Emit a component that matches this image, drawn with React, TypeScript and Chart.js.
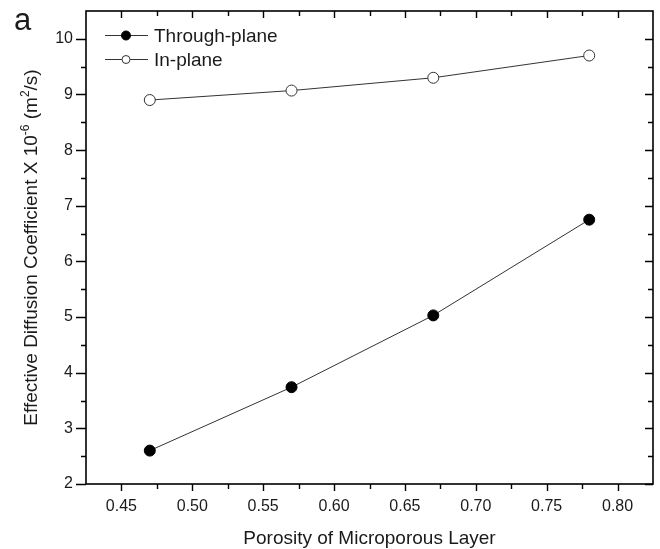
import React, { useEffect, useRef } from 'react';
import { Chart, registerables } from 'chart.js';

Chart.register(...registerables);

const FONT = '"Liberation Sans", Arial, Helvetica, sans-serif';

const porosity = [0.47, 0.57, 0.67, 0.78];
const throughPlane = [2.6, 3.74, 5.03, 6.75];
const inPlane = [8.9, 9.07, 9.3, 9.7];

const xTicks = [0.45, 0.5, 0.55, 0.6, 0.65, 0.7, 0.75, 0.8];
const xMinorTicks = [0.475, 0.525, 0.575, 0.625, 0.675, 0.725, 0.775];
const yTicks = [2, 3, 4, 5, 6, 7, 8, 9, 10];
const yMinorTicks = [2.5, 3.5, 4.5, 5.5, 6.5, 7.5, 8.5, 9.5];

const seriesNames = ['Through-plane', 'In-plane'];
const xTitle = 'Porosity of Microporous Layer';
const panelLabel = 'a';

const framePlugin = {
  id: 'frameTicks',
  afterDraw(chart: any) {
    const { ctx, chartArea: a, scales } = chart;
    const xs = scales.x;
    const ys = scales.y;
    ctx.save();
    ctx.strokeStyle = '#000';
    ctx.lineWidth = 1.6;
    ctx.strokeRect(a.left, a.top, a.right - a.left, a.bottom - a.top);
    ctx.lineWidth = 1.4;
    ctx.beginPath();
    const tickX = (v: number, len: number) => {
      const px = Math.round(xs.getPixelForValue(v)) + 0.5;
      ctx.moveTo(px, a.bottom);
      ctx.lineTo(px, a.bottom + len);
      ctx.moveTo(px, a.top);
      ctx.lineTo(px, a.top + len);
    };
    const tickY = (v: number, len: number, lenR: number) => {
      const py = Math.round(ys.getPixelForValue(v)) + 0.5;
      ctx.moveTo(a.left - len, py);
      ctx.lineTo(a.left, py);
      ctx.moveTo(a.right, py);
      ctx.lineTo(a.right - lenR, py);
    };
    xTicks.forEach((v) => tickX(v, 7));
    xMinorTicks.forEach((v) => tickX(v, 5));
    yTicks.forEach((v) => tickY(v, 10, 8));
    yMinorTicks.forEach((v) => tickY(v, 5, 5));
    ctx.stroke();
    ctx.restore();
  },
};

const textPlugin = {
  id: 'extraText',
  afterDraw(chart: any) {
    const { ctx, chartArea: a } = chart;
    ctx.save();
    ctx.fillStyle = '#1a1a1a';

    // panel label
    ctx.font = `31px ${FONT}`;
    ctx.textBaseline = 'alphabetic';
    ctx.textAlign = 'left';
    ctx.fillText(panelLabel, 14, 30);

    // y title with superscripts
    const segs: [string, boolean][] = [
      ['Effective Diffusion Coefficient X 10', false],
      ['-6', true],
      [' (m', false],
      ['2', true],
      ['/s)', false],
    ];
    const big = `19px ${FONT}`;
    const small = `12px ${FONT}`;
    let total = 0;
    segs.forEach(([t, sup]) => {
      ctx.font = sup ? small : big;
      total += ctx.measureText(t).width;
    });
    ctx.translate(37, (a.top + a.bottom) / 2);
    ctx.rotate(-Math.PI / 2);
    let x = -total / 2;
    segs.forEach(([t, sup]) => {
      ctx.font = sup ? small : big;
      ctx.fillText(t, x, sup ? -8 : 0);
      x += ctx.measureText(t).width;
    });
    ctx.restore();

    // legend
    ctx.save();
    const rows = [35, 59];
    chart.data.datasets.forEach((ds: any, i: number) => {
      const y = rows[i];
      ctx.strokeStyle = ds.borderColor;
      ctx.lineWidth = 1;
      ctx.beginPath();
      ctx.moveTo(105, y + 0.5);
      ctx.lineTo(148, y + 0.5);
      ctx.stroke();
      ctx.beginPath();
      ctx.arc(126, y + 0.5, i === 0 ? 4.5 : 4, 0, Math.PI * 2);
      ctx.fillStyle = ds.pointBackgroundColor;
      ctx.fill();
      ctx.strokeStyle = ds.pointBorderColor;
      ctx.stroke();
      ctx.fillStyle = '#1a1a1a';
      ctx.font = `19px ${FONT}`;
      ctx.textBaseline = 'alphabetic';
      ctx.fillText(ds.label, 154, y + 6.5);
    });
    ctx.restore();
  },
};

export default function App() {
  const ref = useRef<HTMLCanvasElement>(null);
  useEffect(() => {
    if (!ref.current) return;
    const chart = new Chart(ref.current, {
      type: 'line',
      data: {
        datasets: [
          {
            label: seriesNames[0],
            data: porosity.map((x, i) => ({ x, y: throughPlane[i] })),
            borderColor: '#333',
            borderWidth: 1,
            pointRadius: 5.5,
            pointBackgroundColor: '#000',
            pointBorderColor: '#000',
            pointBorderWidth: 1,
            tension: 0,
          },
          {
            label: seriesNames[1],
            data: porosity.map((x, i) => ({ x, y: inPlane[i] })),
            borderColor: '#333',
            borderWidth: 1,
            pointRadius: 5.5,
            pointBackgroundColor: '#fff',
            pointBorderColor: '#333',
            pointBorderWidth: 1,
            tension: 0,
          },
        ],
      },
      options: {
        animation: false,
        responsive: false,
        layout: { padding: { top: 11, right: 7, left: 0, bottom: 0 } },
        plugins: { legend: { display: false }, tooltip: { enabled: false } },
        scales: {
          x: {
            type: 'linear',
            min: 0.425,
            max: 0.825,
            afterBuildTicks: (s: any) => {
              s.ticks = xTicks.map((v) => ({ value: v }));
            },
            afterFit: (s: any) => {
              s.height = 65;
              s.paddingLeft = 0;
              s.paddingRight = 0;
              s.paddingTop = 0;
              s.paddingBottom = 0;
            },
            grid: { display: false, drawTicks: false },
            border: { display: false },
            ticks: {
              callback: (v: any) => Number(v).toFixed(2),
              font: { size: 16, family: FONT },
              color: '#1a1a1a',
              padding: 13,
              maxRotation: 0,
              autoSkip: false,
            },
            title: {
              display: true,
              text: xTitle,
              font: { size: 19, family: FONT, lineHeight: 1.1 },
              color: '#1a1a1a',
              padding: { top: 0, bottom: 0 },
            },
          },
          y: {
            type: 'linear',
            min: 2,
            max: 10.5,
            afterBuildTicks: (s: any) => {
              s.ticks = yTicks.map((v) => ({ value: v }));
            },
            afterFit: (s: any) => {
              s.width = 86;
              s.paddingLeft = 0;
              s.paddingRight = 0;
              s.paddingTop = 0;
              s.paddingBottom = 0;
            },
            grid: { display: false, drawTicks: false },
            border: { display: false },
            ticks: {
              callback: (v: any) => String(v),
              font: { size: 16, family: FONT },
              color: '#1a1a1a',
              padding: 13,
              autoSkip: false,
            },
          },
        },
      },
      plugins: [framePlugin, textPlugin],
    } as any);
    return () => chart.destroy();
  }, []);
  return (
    <div style={{ position: 'fixed', left: 0, top: 0, width: 660, height: 549, background: '#fff' }}>
      <canvas ref={ref} width={660} height={549} />
    </div>
  );
}
